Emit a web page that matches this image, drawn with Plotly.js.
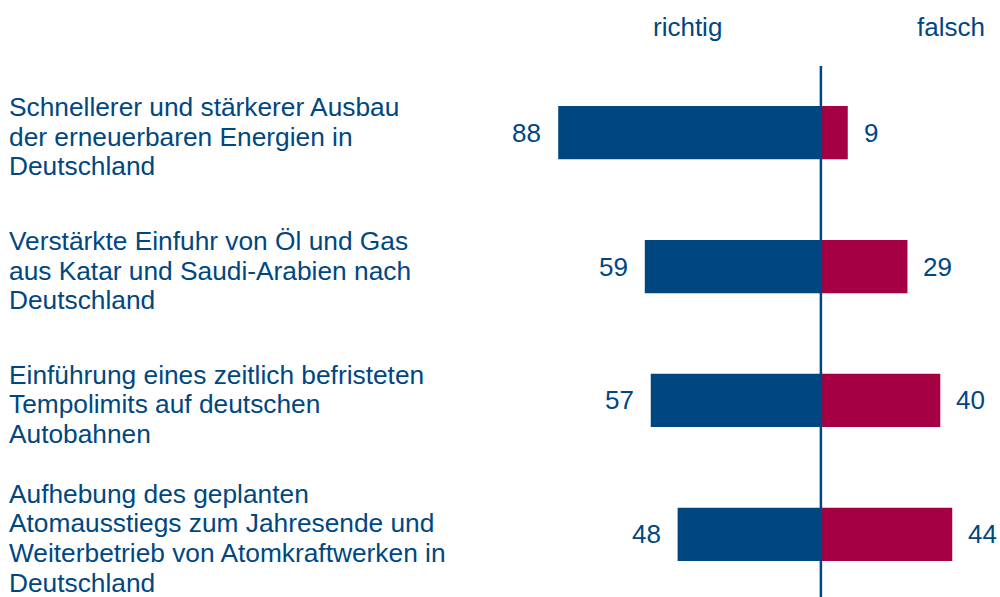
<!DOCTYPE html>
<html>
<head>
<meta charset="utf-8">
<script src="https://cdn.plot.ly/plotly-3.0.1.min.js"></script>
<style>html,body{margin:0;padding:0;background:#fff}#chart{width:1000px;height:597px}</style>
</head>
<body>
<div id="chart"></div>
<script>
var categories = ["c1", "c2", "c3", "c4"];
var labelLines = [
  ["Schnellerer und stärkerer Ausbau", "der erneuerbaren Energien in", "Deutschland"],
  ["Verstärkte Einfuhr von Öl und Gas", "aus Katar und Saudi-Arabien nach", "Deutschland"],
  ["Einführung eines zeitlich befristeten", "Tempolimits auf deutschen", "Autobahnen"],
  ["Aufhebung des geplanten", "Atomausstiegs zum Jahresende und", "Weiterbetrieb von Atomkraftwerken in", "Deutschland"]
];
var richtig = [88, 59, 57, 48];
var falsch = [9, 29, 40, 44];
var seriesNames = ["richtig", "falsch"];

var BLUE = "#004782", RED = "#A50044", TXT = "#004782";
var FONT = "Liberation Sans, Arial, sans-serif";
var FS = 26;

var traces = [
  {type: "bar", orientation: "h", y: categories, x: richtig.map(function(v){return -v;}),
   marker: {color: BLUE}, width: 0.398, hoverinfo: "skip", name: seriesNames[0]},
  {type: "bar", orientation: "h", y: categories, x: falsch,
   marker: {color: RED}, width: 0.398, hoverinfo: "skip", name: seriesNames[1]}
];

var annotations = [];
categories.forEach(function(c, i) {
  annotations.push({x: -richtig[i], y: c, xref: "x", yref: "y", text: String(richtig[i]),
    showarrow: false, xanchor: "right", yanchor: "middle", xshift: -15,
    font: {family: FONT, size: FS, color: TXT}});
  annotations.push({x: falsch[i], y: c, xref: "x", yref: "y", text: String(falsch[i]),
    showarrow: false, xanchor: "left", yanchor: "middle", xshift: 14,
    font: {family: FONT, size: FS, color: TXT}});
  var lines = labelLines[i];
  var n = lines.length, sp = 29.7;
  lines.forEach(function(t, k) {
    annotations.push({x: -0.98, y: c, xref: "paper", yref: "y", text: t,
      showarrow: false, xanchor: "left", yanchor: "middle", xshift: -3,
      yshift: -((k - (n - 1) / 2) * sp) - 4,
      font: {family: FONT, size: 26.3, color: TXT}});
  });
});
annotations.push({x: -44.6, y: 1, xref: "x", yref: "paper", text: seriesNames[0], showarrow: false,
  xanchor: "center", yanchor: "middle", yshift: 39, font: {family: FONT, size: FS, color: TXT}});
annotations.push({x: 43.6, y: 1, xref: "x", yref: "paper", text: seriesNames[1], showarrow: false,
  xanchor: "center", yanchor: "middle", yshift: 39, font: {family: FONT, size: FS, color: TXT}});

var layout = {
  width: 1000, height: 597,
  margin: {l: 500, r: 0, t: 66, b: 0, pad: 0},
  paper_bgcolor: "#fff", plot_bgcolor: "#fff",
  barmode: "relative",
  showlegend: false,
  xaxis: {range: [-107.5, 60], visible: false, fixedrange: true},
  yaxis: {type: "category", range: [3.468, -0.498], visible: false, fixedrange: true},
  shapes: [{type: "line", xref: "x", yref: "paper", x0: 0, x1: 0, y0: 0, y1: 1,
    line: {color: BLUE, width: 2.5}, layer: "above"}],
  annotations: annotations,
  font: {family: FONT}
};

Plotly.newPlot("chart", traces, layout, {displayModeBar: false, staticPlot: true});
</script>
</body>
</html>
